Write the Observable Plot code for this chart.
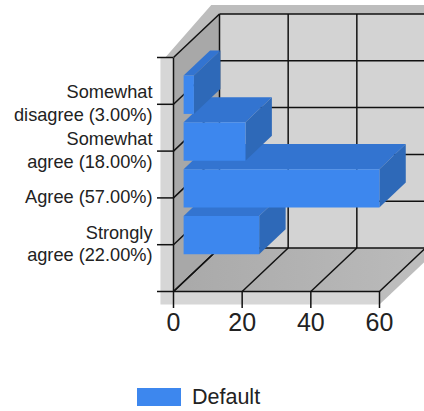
<!DOCTYPE html>
<html>
<head>
<meta charset="utf-8">
<script src="https://cdn.jsdelivr.net/npm/d3@7"></script>
<script src="https://cdn.jsdelivr.net/npm/@observablehq/plot@0.6"></script>
<style>
html,body{margin:0;padding:0;background:#fff;width:424px;height:411px;overflow:hidden}
#chart{position:absolute;left:0;top:0}
#legend{position:absolute;left:137px;top:380px;display:flex;align-items:center;height:34px;font:21.5px "Liberation Sans",Arial,sans-serif;color:#222}
#legend i{display:block;width:44px;height:18px;margin-right:11px}
</style>
</head>
<body>
<div id="chart"></div>
<div id="legend"></div>
<script>
const categories = ["Strongly\nagree (22.00%)", "Agree (57.00%)", "Somewhat\nagree (18.00%)", "Somewhat\ndisagree (3.00%)"];
const values = [22, 57, 18, 3];
const xTicks = [0, 20, 40, 60];
const yTicks = [0, 1, 2, 3, 4, 5];
const seriesName = "Default";
const colors = {front: "#3d87ee", top: "#3374d0", side: "#2e69b8", wall: "#d3d3d3", left: "#a8a8a8", edge: "#d6d6d6", shade: "#bdbdbd", line: "#111"};
const depthX = 13.4, depthY = 0.93, barNear = 0.22, barFar = 0.795, barHalf = 0.41;

const at = (v, b, z) => ({x: v + z * depthX, y: b + z * depthY});
const poly = (pts, fill) => Plot.line(pts, {x: "x", y: "y", fill, stroke: "none"});
const seg = (a, b) => ({x1: a.x, y1: a.y, x2: b.x, y2: b.y});

const xMax = 60, yMax = 5;

// Floor shading runs from dark at the left wall to lighter at the right.
const floorGradient = () => {
  const defs = d3.create("svg:defs");
  const g = defs.append("linearGradient").attr("id", "floorShade");
  g.append("stop").attr("offset", "0%").attr("stop-color", "#a9a9a9");
  g.append("stop").attr("offset", "100%").attr("stop-color", "#bbbbbb");
  return defs.node();
};

const shell = [
  floorGradient,
  poly([at(xMax, 0, 0), at(xMax, 0, 1), at(xMax, yMax, 1), at(0, yMax, 1), at(0, 0, 1)], colors.wall),
  poly([at(0, 0, 0), at(0, 0, 1), at(0, yMax, 1), at(0, yMax, 0)], colors.left),
  poly([at(0, 0, 0), at(xMax, 0, 0), at(xMax, 0, 1), at(0, 0, 1)], "url(#floorShade)"),
  poly([at(-3.8, -0.28, 0), at(xMax, -0.28, 0), at(xMax, 0, 0), at(0, 0, 0), at(0, yMax, 0), at(-3.8, yMax, 0)], colors.edge),
  poly([at(-2.4, yMax, 0), at(-2.4, yMax + 0.19, 1), at(xMax, yMax + 0.19, 1), at(xMax, yMax, 1), at(0, yMax, 1), at(0, yMax, 0)], colors.shade),
  poly([at(xMax, 0, 0), at(xMax, 0, 1), at(xMax, -0.28, 1), at(xMax, -0.28, 0)], colors.shade)
];

const gridLines = [
  ...xTicks.map(v => seg(at(v, 0, 1), at(v, yMax, 1))),
  ...xTicks.map(v => seg(at(v, 0, 0), at(v, 0, 1))),
  ...yTicks.map(b => seg(at(0, b, 1), at(xMax, b, 1))),
  ...yTicks.map(b => seg(at(0, b, 0), at(0, b, 1))),
  seg(at(0, 0, 0), at(xMax, 0, 0)),
  seg(at(0, 0, 0), at(0, yMax, 0))
];

// Lower bars first: each higher bar is painted over the top face of the one below it.
const bars = values.flatMap((v, i) => {
  const lo = i + 1 - barHalf, hi = i + 1 + barHalf;
  return [
    poly([at(0, hi, barNear), at(v, hi, barNear), at(v, hi, barFar), at(0, hi, barFar)], colors.top),
    poly([at(v, lo, barNear), at(v, hi, barNear), at(v, hi, barFar), at(v, lo, barFar)], colors.side),
    poly([at(0, lo, barNear), at(v, lo, barNear), at(v, hi, barNear), at(0, hi, barNear)], colors.front)
  ];
});

const chart = Plot.plot({
  width: 424,
  height: 370,
  marginTop: 57,
  marginBottom: 79,
  marginLeft: 173,
  marginRight: 45,
  style: {background: "transparent", fontFamily: "'Liberation Sans', Arial, sans-serif", color: "#222", overflow: "visible"},
  x: {domain: [0, xMax], axis: null},
  y: {domain: [0, yMax], axis: null},
  marks: [
    ...shell,
    Plot.link(gridLines, {x1: "x1", y1: "y1", x2: "x2", y2: "y2", stroke: colors.line, strokeWidth: 1.5}),
    ...bars,
    Plot.axisX({ticks: xTicks, tickFormat: d => String(d), tickSize: 17, tickPadding: 5, fontSize: 25, label: null, stroke: colors.line, strokeWidth: 1.5, anchor: "bottom"}),
    Plot.axisY({ticks: yTicks, tickFormat: () => "", tickSize: 16, label: null, stroke: colors.line, strokeWidth: 1.5, anchor: "left"}),
    Plot.text(categories, {x: () => 0, y: (d, i) => i + 1, dx: -21, dy: -2, text: d => d, textAnchor: "end", fontSize: 18.2, lineHeight: 1.25, fill: "#222"})
  ]
});
document.getElementById("chart").append(chart);
const leg = document.getElementById("legend");
const sw = document.createElement("i");
sw.style.background = colors.front;
leg.append(sw, seriesName);
</script>
</body>
</html>
